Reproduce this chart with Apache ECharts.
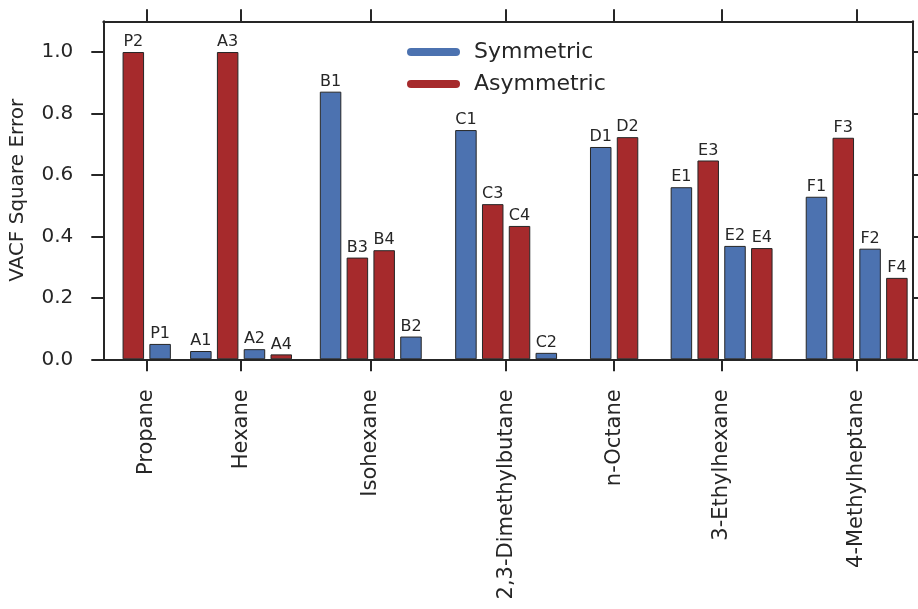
<!DOCTYPE html>
<html>
<head>
<meta charset="utf-8">
<script src="https://cdn.jsdelivr.net/npm/echarts@6/dist/echarts.min.js"></script>
<style>
  html, body { margin: 0; padding: 0; background: #fff; }
  #chart { width: 918px; height: 609px; }
</style>
</head>
<body>
<div id="chart"></div>
<script>
// ---- data ----
const categories = ['Propane', 'Hexane', 'Isohexane', '2,3-Dimethylbutane', 'n-Octane', '3-Ethylhexane', '4-Methylheptane'];
const groupCenters = [1.62, 5.14, 9.98, 15.03, 19.06, 23.07, 28.11];
const barNames = [
  ['P2', 'P1'],
  ['A1', 'A3', 'A2', 'A4'],
  ['B1', 'B3', 'B4', 'B2'],
  ['C1', 'C3', 'C4', 'C2'],
  ['D1', 'D2'],
  ['E1', 'E3', 'E2', 'E4'],
  ['F1', 'F3', 'F2', 'F4']
];
const barValues = [
  [1.000, 0.050],
  [0.027, 1.000, 0.033, 0.016],
  [0.871, 0.331, 0.355, 0.074],
  [0.746, 0.505, 0.434, 0.021],
  [0.691, 0.723],
  [0.560, 0.647, 0.369, 0.362],
  [0.529, 0.721, 0.360, 0.265]
];
const barKinds = [
  ['A', 'S'],
  ['S', 'A', 'S', 'A'],
  ['S', 'A', 'A', 'S'],
  ['S', 'A', 'A', 'S'],
  ['S', 'A'],
  ['S', 'A', 'S', 'A'],
  ['S', 'A', 'S', 'A']
];
const seriesNames = { S: 'Symmetric', A: 'Asymmetric' };
const yTicks = [0, 0.2, 0.4, 0.6, 0.8, 1.0];
const yTitle = 'VACF Square Error';

// ---- build ----
const FONT = 'DejaVu Sans';
const INK = '#262626';
const colors = { S: '#4c72b0', A: '#a62a2c' };
const dataByKind = { S: [], A: [] };
barNames.forEach((names, g) => {
  const n = names.length;
  names.forEach((nm, k) => {
    const x = groupCenters[g] + k - (n - 1) / 2;
    dataByKind[barKinds[g][k]].push({ name: nm, value: [x, barValues[g][k]] });
  });
});

function barSeries(kind) {
  return {
    name: seriesNames[kind],
    type: 'bar',
    xAxisIndex: 0,
    yAxisIndex: 0,
    barWidth: 21.5,
    barGap: '-100%',
    itemStyle: { color: colors[kind], borderColor: INK, borderWidth: 1 },
    label: {
      show: true, position: 'top', distance: 2,
      formatter: '{b}', fontFamily: FONT, fontSize: 16, color: INK
    },
    emphasis: { disabled: true },
    data: dataByKind[kind]
  };
}

const xMax = 30.2;
const axisLine = { show: true, onZero: false, lineStyle: { color: INK, width: 2 } };
const tick = (vals) => ({ show: true, inside: false, length: 12, customValues: vals, lineStyle: { color: INK, width: 2 } });

const chart = echarts.init(document.getElementById('chart'), null, { renderer: 'canvas' });
chart.setOption({
  animation: false,
  backgroundColor: '#fff',
  textStyle: { fontFamily: FONT, color: INK },
  grid: { left: 103.3, right: 5.3, top: 21.3, bottom: 249.7, containLabel: false, outerBoundsMode: 'none' },
  legend: {
    orient: 'vertical', left: 407, top: 41, padding: 0,
    itemWidth: 53, itemHeight: 8, itemGap: 10,
    icon: 'path://M4,0 L49,0 A4,4 0 0 1 49,8 L4,8 A4,4 0 0 1 4,0 Z',
    itemStyle: { borderWidth: 0 },
    textStyle: { fontFamily: FONT, fontSize: 22, color: INK, lineHeight: 22, padding: [0, 0, 0, 9] },
    data: ['Symmetric', 'Asymmetric']
  },
  xAxis: [
    {
      type: 'value', position: 'bottom', min: 0, max: xMax,
      axisLine: axisLine, axisTick: tick(groupCenters), splitLine: { show: false },
      axisLabel: {
        show: true, customValues: groupCenters, rotate: 90, margin: 30,
        fontFamily: FONT, fontSize: 21, color: INK,
        formatter: (v) => {
          let best = 0;
          groupCenters.forEach((c, i) => { if (Math.abs(c - v) < Math.abs(groupCenters[best] - v)) best = i; });
          return categories[best];
        }
      }
    },
    {
      type: 'value', position: 'top', min: 0, max: xMax,
      axisLine: axisLine, axisTick: tick(groupCenters), splitLine: { show: false },
      axisLabel: { show: false }
    }
  ],
  yAxis: [
    {
      type: 'value', position: 'left', min: 0, max: 1.1,
      axisLine: axisLine, axisTick: tick(yTicks), splitLine: { show: false },
      axisLabel: {
        show: true, customValues: yTicks, margin: 30,
        fontFamily: FONT, fontSize: 20, color: INK,
        formatter: (v) => v.toFixed(1)
      },
      name: yTitle, nameLocation: 'middle', nameGap: 76, nameRotate: 90,
      nameTextStyle: { fontFamily: FONT, fontSize: 20, color: INK }
    },
    {
      type: 'value', position: 'right', min: 0, max: 1.1,
      axisLine: axisLine, axisTick: tick(yTicks), splitLine: { show: false },
      axisLabel: { show: false }
    }
  ],
  series: [barSeries('S'), barSeries('A')]
});
</script>
</body>
</html>
